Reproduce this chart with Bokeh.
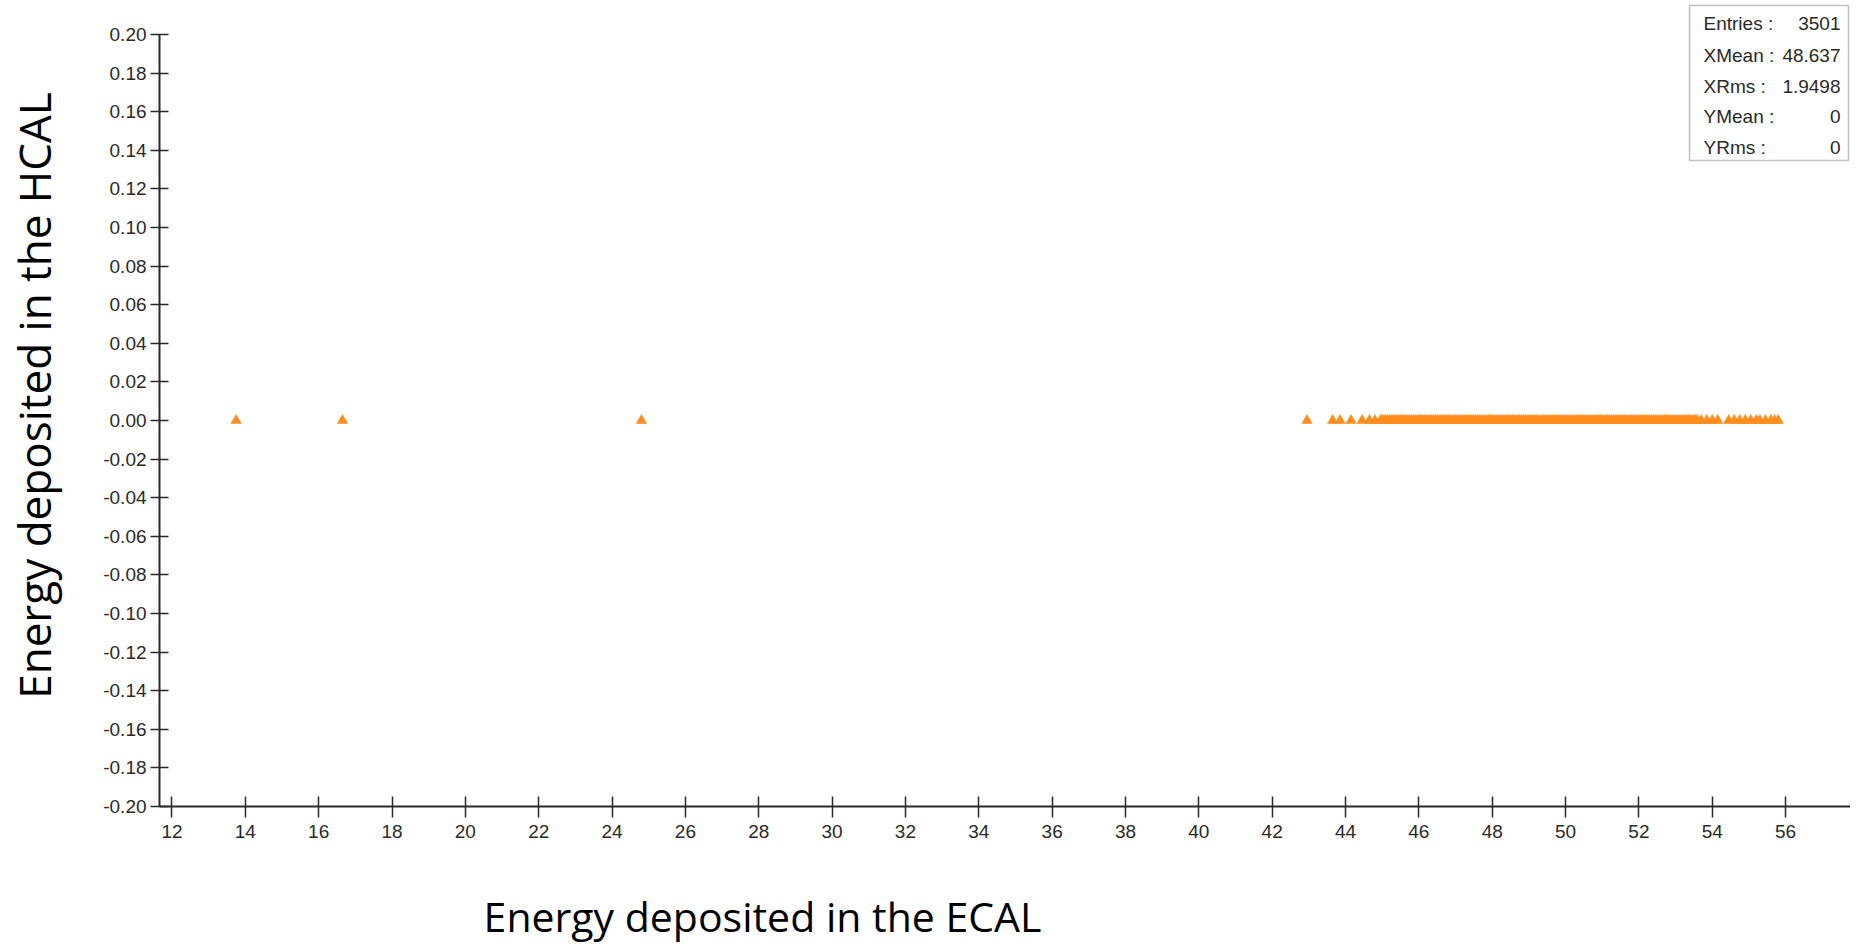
import math
from bokeh.plotting import figure
from bokeh.models import Range1d, FixedTicker, PrintfTickFormatter, Label, BoxAnnotation
from bokeh.embed import file_html
from bokeh.resources import INLINE

# ---- data (energy in ECAL, energy in HCAL) ----
low_ecal = [13.75, 16.65, 24.8, 42.95, 43.65, 43.85, 44.15, 44.45, 44.65, 44.8, 44.95]
band_ecal = [
    45.00, 45.05, 45.10, 45.15, 45.20, 45.25, 45.30, 45.35, 45.40, 45.45, 45.50, 45.55, 45.60, 45.65, 45.70, 45.75, 45.80, 45.85, 45.90, 45.95,
    46.00, 46.05, 46.10, 46.15, 46.20, 46.25, 46.30, 46.35, 46.40, 46.45, 46.50, 46.55, 46.60, 46.65, 46.70, 46.75, 46.80, 46.85, 46.90, 46.95,
    47.00, 47.05, 47.10, 47.15, 47.20, 47.25, 47.30, 47.35, 47.40, 47.45, 47.50, 47.55, 47.60, 47.65, 47.70, 47.75, 47.80, 47.85, 47.90, 47.95,
    48.00, 48.05, 48.10, 48.15, 48.20, 48.25, 48.30, 48.35, 48.40, 48.45, 48.50, 48.55, 48.60, 48.65, 48.70, 48.75, 48.80, 48.85, 48.90, 48.95,
    49.00, 49.05, 49.10, 49.15, 49.20, 49.25, 49.30, 49.35, 49.40, 49.45, 49.50, 49.55, 49.60, 49.65, 49.70, 49.75, 49.80, 49.85, 49.90, 49.95,
    50.00, 50.05, 50.10, 50.15, 50.20, 50.25, 50.30, 50.35, 50.40, 50.45, 50.50, 50.55, 50.60, 50.65, 50.70, 50.75, 50.80, 50.85, 50.90, 50.95,
    51.00, 51.05, 51.10, 51.15, 51.20, 51.25, 51.30, 51.35, 51.40, 51.45, 51.50, 51.55, 51.60, 51.65, 51.70, 51.75, 51.80, 51.85, 51.90, 51.95,
    52.00, 52.05, 52.10, 52.15, 52.20, 52.25, 52.30, 52.35, 52.40, 52.45, 52.50, 52.55, 52.60, 52.65, 52.70, 52.75, 52.80, 52.85, 52.90, 52.95,
    53.00, 53.05, 53.10, 53.15, 53.20, 53.25, 53.30, 53.35, 53.40, 53.45, 53.50, 53.55, 53.60,
]
high_ecal = [53.7, 53.85, 54.0, 54.15, 54.45, 54.6, 54.75, 54.9, 55.05, 55.2, 55.3, 55.45, 55.6, 55.7, 55.8]
hcal_value = 0.0

x_ticks = [12, 14, 16, 18, 20, 22, 24, 26, 28, 30, 32, 34, 36, 38, 40, 42, 44, 46, 48, 50, 52, 54, 56]
y_ticks = [-0.20, -0.18, -0.16, -0.14, -0.12, -0.10, -0.08, -0.06, -0.04, -0.02, 0.0,
           0.02, 0.04, 0.06, 0.08, 0.10, 0.12, 0.14, 0.16, 0.18, 0.20]
x_axis_span = (11.66, 57.77)
y_axis_span = (-0.20, 0.20)

stat_names = ["Entries :", "XMean :", "XRms :", "YMean :", "YRms :"]
stat_values = ["3501", "48.637", "1.9498", "0", "0"]

x_title = "Energy deposited in the ECAL"
y_title = "Energy deposited in the HCAL"

# ---- figure: the frame fills the canvas, axes are pinned inside it ----
p = figure(width=1850, height=946, title=None, toolbar_location=None, output_backend="svg",
           x_range=Range1d(7.324, 57.77), y_range=Range1d(-0.27254, 0.2176),
           min_border_left=0, min_border_right=0, min_border_top=0, min_border_bottom=0)
p.outline_line_color = None
p.xgrid.visible = False
p.ygrid.visible = False
p.background_fill_color = "white"
p.border_fill_color = "white"

axis_color = "#2a2a2a"
for ax in (p.xaxis[0], p.yaxis[0]):
    ax.axis_line_color = axis_color
    ax.axis_line_width = 2
    ax.major_tick_line_color = axis_color
    ax.major_tick_line_width = 1.5
    ax.minor_tick_line_color = None
    ax.major_label_text_font = "Liberation Sans"
    ax.major_label_text_font_size = "19px"
    ax.major_label_text_color = "#2a2a2a"

xa = p.xaxis[0]
xa.ticker = FixedTicker(ticks=x_ticks)
xa.fixed_location = y_axis_span[0]
xa.bounds = x_axis_span
xa.major_tick_in = 10
xa.major_tick_out = 11
xa.major_label_standoff = 8

ya = p.yaxis[0]
ya.ticker = FixedTicker(ticks=y_ticks)
ya.formatter = PrintfTickFormatter(format="%.2f")
ya.fixed_location = x_axis_span[0]
ya.bounds = y_axis_span
ya.major_tick_in = 9
ya.major_tick_out = 9
ya.major_label_standoff = 4

all_ecal = low_ecal + band_ecal + high_ecal
all_hcal = [hcal_value] * len(all_ecal)
p.scatter(all_ecal, all_hcal, marker="triangle", size=10.5,
          fill_color="#ff8c1e", line_color="#ff8c1e", line_width=0.5)

# ---- axis titles ----
p.add_layout(Label(x=762, y=31, x_units="screen", y_units="screen", text=x_title,
                   text_font="Open Sans", text_font_size="41px", text_color="black",
                   text_align="center", text_baseline="middle"))
p.add_layout(Label(x=33, y=551, x_units="screen", y_units="screen", text=y_title,
                   angle=math.pi / 2, text_font="Open Sans", text_font_size="44px",
                   text_color="black", text_align="center", text_baseline="middle"))

# ---- statistics box ----
p.add_layout(BoxAnnotation(left=1689, right=1848, top=941, bottom=786,
                           left_units="screen", right_units="screen",
                           top_units="screen", bottom_units="screen",
                           fill_color="white", fill_alpha=1.0,
                           line_color="#333333", line_width=1.5))
row_y = [923, 891, 860, 830, 799]
for name, val, yy in zip(stat_names, stat_values, row_y):
    p.add_layout(Label(x=1703, y=yy, x_units="screen", y_units="screen", text=name,
                       text_font="Liberation Sans", text_font_size="19px",
                       text_color="#2a2a2a", text_align="left", text_baseline="middle"))
    p.add_layout(Label(x=1840, y=yy, x_units="screen", y_units="screen", text=val,
                       text_font="Liberation Sans", text_font_size="19px",
                       text_color="#2a2a2a", text_align="right", text_baseline="middle"))

open("out.html", "w").write(file_html(p, INLINE))
